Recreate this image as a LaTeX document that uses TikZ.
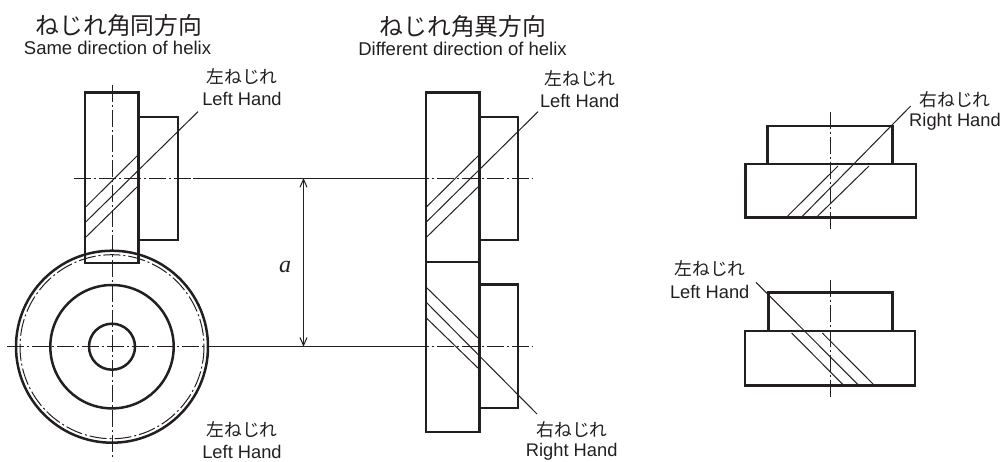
\documentclass[tikz,border=0pt]{standalone}
\usepackage{fontspec}
\setmainfont{Liberation Sans}
\newfontfamily\jpfont{Noto Sans CJK JP}
\newfontfamily\mathitfont{Liberation Serif}
\usetikzlibrary{arrows.meta}
\definecolor{inkc}{HTML}{231F20}
\tikzset{
    outline/.style={line width=2.5pt, inkc},
    thinline/.style={line width=1pt, inkc},
    axisline/.style={line width=1pt, inkc, dash pattern=on 17pt off 3pt on 2pt off 3pt},
    jptitle/.style={inkc, font=\jpfont\fontsize{23.8}{24}\selectfont, inner sep=0pt},
    entitle/.style={inkc, font=\fontsize{18.5}{19}\selectfont, inner sep=0pt},
    jphand/.style={inkc, font=\jpfont\fontsize{17.8}{18}\selectfont, inner sep=0pt},
    enhand/.style={inkc, font=\fontsize{18.3}{19}\selectfont, inner sep=0pt},
}
\begin{document}
\begin{tikzpicture}[x=1pt, y=-1pt]
    \useasboundingbox (0,0) rectangle (1002,461);

    % Titles
    \node[jptitle] (titlesame) at (119,25) {ねじれ角同方向};
    \node[entitle] (subsame) at (117.5,48) {Same direction of helix};
    \node[jptitle] (titlediff) at (463,26) {ねじれ角異方向};
    \node[entitle] (subdiff) at (462.5,49) {Different direction of helix};

    % Center lines
    \draw[axisline] (74,178) -- (193,178);
    \draw[thinline] (193,178) -- (411.5,178);
    \draw[axisline] (411.5,178) -- (532,178);
    \draw[axisline] (7,346.7) -- (222,346.7);
    \draw[thinline] (222,346.7) -- (411.5,346.7);
    \draw[axisline] (411.5,346.7) -- (532,346.7);
    \draw[axisline] (112,85) -- (112,457);
    \draw[axisline] (830,112) -- (830,229);
    \draw[axisline] (830.3,280) -- (830.3,396.7);

    % Same direction: worm side
    \draw[outline] (85,92.7) rectangle (138.7,263);
    \draw[outline] (138.7,117) -- (178,117) -- (178,240) -- (138.7,240);
    \draw[thinline] (86,206.7) -- (138,155);
    \draw[thinline] (86,221.7) -- (198,111.7);
    \draw[thinline] (86,237) -- (138,186);

    % Same direction: wheel
    \draw[outline] (112,346.7) circle (96);
    \draw[axisline] (112,346.7) circle (92);
    \draw[outline] (112,346.7) circle (61.7);
    \draw[outline] (112,346.7) circle (23);

    % Center distance
    \draw[thinline, {Straight Barb[length=8pt,width=7pt]}-{Straight Barb[length=8pt,width=7pt]}] (303.5,178) -- (303.5,346.7);
    \node[inkc, inner sep=0pt, font=\mathitfont\itshape\fontsize{24}{24}\selectfont] (dista) at (285,267) {a};

    % Different direction: upper
    \draw[outline] (426,92.7) rectangle (479.3,262);
    \draw[outline] (479.3,117) -- (518,117) -- (518,240) -- (479.3,240);
    \draw[thinline] (426.7,206.7) -- (479,155);
    \draw[thinline] (426.7,221.7) -- (538,111.7);
    \draw[thinline] (426.7,237) -- (479,186);

    % Different direction: lower
    \draw[outline] (426,262) rectangle (479.3,432);
    \draw[outline] (479.3,284.3) -- (518,284.3) -- (518,408) -- (479.3,408);
    \draw[thinline] (426.7,287.7) -- (479,339);
    \draw[thinline] (426.7,302.7) -- (537,414);
    \draw[thinline] (426.7,318.3) -- (479,369);

    % Right hand, top
    \draw[outline] (767.7,164) -- (767.7,126) -- (892.3,126) -- (892.3,164);
    \draw[outline] (745.7,164) rectangle (916,217.7);
    \draw[thinline] (786.7,217) -- (838,166);
    \draw[thinline] (801.7,217) -- (910.7,106);
    \draw[thinline] (816.7,217) -- (869,166);

    % Left hand, bottom
    \draw[outline] (768.7,331) -- (768.7,292.7) -- (892.7,292.7) -- (892.7,331);
    \draw[outline] (745,331) rectangle (915,385.7);
    \draw[thinline] (791.7,333) -- (843.3,385);
    \draw[thinline] (756,282.3) -- (858.3,385);
    \draw[thinline] (822.3,333) -- (874,385);

    % Labels
    \node[jphand] (jpone) at (242,77) {左ねじれ};
    \node[enhand] (enone) at (242,99) {Left Hand};
    \node[jphand] (jptwo) at (580,79) {左ねじれ};
    \node[enhand] (entwo) at (579.7,101) {Left Hand};
    \node[jphand] (jpthree) at (955,100) {右ねじれ};
    \node[enhand] (enthree) at (955,121.7) {Right Hand};
    \node[jphand] (jpfour) at (710,269) {左ねじれ};
    \node[enhand] (enfour) at (709.7,291.7) {Left Hand};
    \node[jphand] (jpfive) at (242,430) {左ねじれ};
    \node[enhand] (enfive) at (242,452) {Left Hand};
    \node[jphand] (jpsix) at (572,430) {右ねじれ};
    \node[enhand] (ensix) at (571.7,452) {Right Hand};
\end{tikzpicture}
\end{document}
